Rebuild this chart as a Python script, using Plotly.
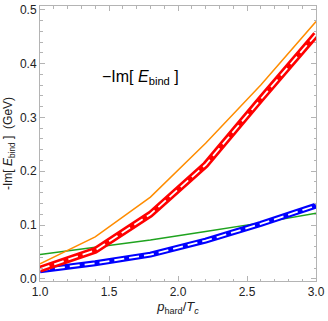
import plotly.graph_objects as go

p_hard = [1.0, 1.4, 1.8, 2.2, 2.6, 3.0]
orange_vals = [0.028, 0.078, 0.152, 0.252, 0.360, 0.478]
red_vals = [0.018, 0.053, 0.120, 0.212, 0.334, 0.454]
blue_vals = [0.016, 0.029, 0.045, 0.071, 0.102, 0.136]
green_vals = [0.045, 0.058, 0.072, 0.088, 0.104, 0.122]

x_ticks = [1.0, 1.5, 2.0, 2.5, 3.0]
x_ticklabels = ["1.0", "1.5", "2.0", "2.5", "3.0"]
y_ticks = [0.0, 0.1, 0.2, 0.3, 0.4, 0.5]
y_ticklabels = ["0.0", "0.1", "0.2", "0.3", "0.4", "0.5"]

fig = go.Figure()
fig.add_trace(go.Scatter(x=p_hard, y=green_vals, mode="lines",
                         line=dict(color="#1fa31f", width=1.5), showlegend=False))
fig.add_trace(go.Scatter(x=p_hard, y=orange_vals, mode="lines",
                         line=dict(color="#ff8c00", width=1.5), showlegend=False))
fig.add_trace(go.Scatter(x=p_hard, y=blue_vals, mode="lines",
                         line=dict(color="#0000ff", width=6), showlegend=False))
fig.add_trace(go.Scatter(x=p_hard, y=blue_vals, mode="lines",
                         line=dict(color="white", width=1.8, dash="10px,5px"), showlegend=False))
fig.add_trace(go.Scatter(x=p_hard, y=red_vals, mode="lines",
                         line=dict(color="#ff0000", width=7), showlegend=False))
fig.add_trace(go.Scatter(x=p_hard, y=red_vals, mode="lines",
                         line=dict(color="white", width=1.8, dash="10px,5px"), showlegend=False))

axis_common = dict(showline=True, linecolor="#b4b4b4", linewidth=1, mirror="ticks",
                   ticks="inside", tickcolor="#b4b4b4", showgrid=False, zeroline=False,
                   tickfont=dict(family="Liberation Sans", size=12, color="#222"))

fig.update_xaxes(range=[1.0, 3.0], tickvals=x_ticks, ticktext=x_ticklabels, ticklen=5,
                 minor=dict(dtick=0.1, ticklen=2.5, tickcolor="#b4b4b4", ticks="inside"),
                 title=dict(text="<i>p</i><sub>hard</sub>/<i>T</i><sub><i>c</i></sub>",
                            font=dict(family="Liberation Sans", size=13, color="#222"), standoff=3),
                 **axis_common)
fig.update_yaxes(range=[-0.004, 0.507], tickvals=y_ticks, ticktext=y_ticklabels, ticklen=5,
                 minor=dict(dtick=0.02, ticklen=2.5, tickcolor="#b4b4b4", ticks="inside"),
                 title=dict(text="-Im[ <i>E</i><sub>bind</sub> ]  (GeV)",
                            font=dict(family="Liberation Sans", size=12, color="#222"), standoff=4),
                 **axis_common)

fig.add_annotation(x=2.02, y=0.375, xref="x", yref="y", xanchor="right", yanchor="middle",
                   text="\u2212Im[ <i>E</i><sub>bind</sub> ]", showarrow=False,
                   font=dict(family="Liberation Sans", size=16, color="black"))

fig.update_layout(width=328, height=321, margin=dict(l=40, r=10, t=3, b=40),
                  plot_bgcolor="white", paper_bgcolor="white")

fig.write_html("out.html", config={"displayModeBar": False},
               post_script="document.body.style.margin='0';document.body.style.overflow='hidden';")
